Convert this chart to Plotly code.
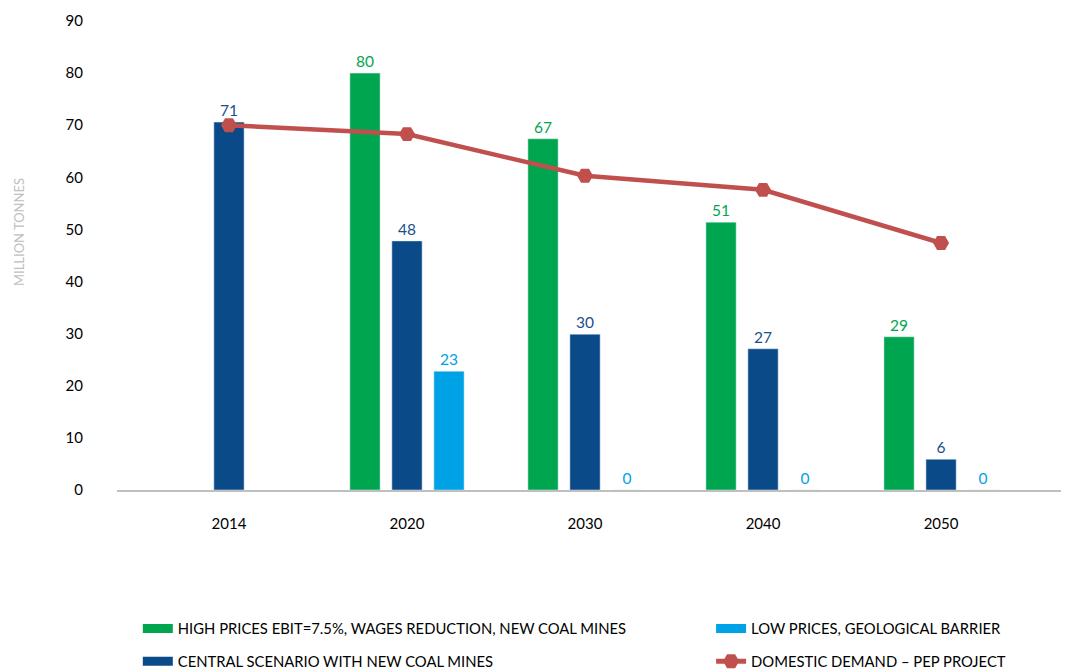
import plotly.graph_objects as go

years = ["2014", "2020", "2030", "2040", "2050"]
high_prices = [None, 80.0, 67.4, 51.4, 29.4]
central = [70.6, 47.8, 29.9, 27.1, 5.9]
low_prices = [None, 22.8, 0, 0, 0]
domestic_demand = [70.0, 68.3, 60.3, 57.6, 47.4]
y_ticks = [0, 10, 20, 30, 40, 50, 60, 70, 80, 90]

names = {
    "high": "HIGH PRICES EBIT=7.5%, WAGES REDUCTION, NEW COAL MINES",
    "central": "CENTRAL SCENARIO WITH NEW COAL MINES",
    "low": "LOW PRICES, GEOLOGICAL BARRIER",
    "demand": "DOMESTIC DEMAND \u2013 PEP PROJECT",
}
y_title = "MILLION TONNES"

GREEN = "#00A64F"
DBLUE = "#0A4A89"
LBLUE = "#00A2E6"
RED = "#C0504D"
FONT = "Lato"

xpos = list(range(len(years)))

fig = go.Figure()

def bar(vals, color, txtcolor):
    return go.Bar(
        x=xpos, y=vals, marker_color=color, showlegend=False,
        texttemplate="%{y:.0f}", textposition="outside", cliponaxis=False,
        textfont=dict(color=txtcolor, size=15.5, family=FONT),
        hoverinfo="skip",
    )

fig.add_trace(bar(high_prices, GREEN, "#00A64F"))
fig.add_trace(bar(central, DBLUE, "#1B4F8A"))
fig.add_trace(bar(low_prices, LBLUE, "#00A2E6"))

fig.add_trace(go.Scatter(
    x=xpos, y=domestic_demand, mode="lines+markers", showlegend=False,
    line=dict(color=RED, width=4.5),
    marker=dict(symbol="hexagon2", size=16, color=RED),
))

# legend entries
def leg(name, color, legend, marker=False):
    return go.Scatter(
        x=[None], y=[None], name=name, legend=legend,
        mode="lines+markers" if marker else "lines",
        line=dict(color=color, width=9 if not marker else 5),
        marker=dict(symbol="hexagon2", size=17, color=color) if marker else None,
    )

fig.add_trace(leg(names["high"], GREEN, "legend"))
fig.add_trace(leg(names["low"], LBLUE, "legend2"))
fig.add_trace(leg(names["central"], DBLUE, "legend3"))
fig.add_trace(leg(names["demand"], RED, "legend4", marker=True))

legfont = dict(family=FONT, size=14.8, color="#000000")
def legpos(x, y):
    return dict(x=x, y=y, xanchor="left", yanchor="middle", font=legfont,
                bgcolor="rgba(0,0,0,0)", itemwidth=30)

# page body has an 8px default margin: figure sized/offset to compensate
fig.update_layout(
    width=1061, height=664,
    margin=dict(l=109, r=6, t=13, b=182, autoexpand=False),
    paper_bgcolor="white", plot_bgcolor="white",
    barmode="group", bargap=0.292, bargroupgap=0.28,
    font=dict(family=FONT, size=15, color="#000000"),
    legend=legpos(0.022, -0.296),
    legend2=legpos(0.628, -0.296),
    legend3=legpos(0.022, -0.366),
    legend4=legpos(0.628, -0.366),
    xaxis=dict(
        range=[-0.629, 4.685], tickvals=xpos, ticktext=years,
        showline=True, linecolor="#BFBFBF", linewidth=2,
        showgrid=False, zeroline=False, ticks="", automargin=False,
        ticklabelstandoff=19, tickfont=dict(size=15, family=FONT),
    ),
    yaxis=dict(
        range=[0, 90], tickvals=y_ticks, showgrid=False, zeroline=False,
        showline=False, ticks="", ticklabelstandoff=33, automargin=False,
        tickfont=dict(size=15, family=FONT),
    ),
    annotations=[dict(
        text=y_title, textangle=-90, xref="paper", yref="paper",
        x=-0.1036, y=0.55, xanchor="center", yanchor="middle", showarrow=False,
        font=dict(size=13, color="#BFBFBF", family=FONT),
    )],
)

fig.write_html("out.html")
